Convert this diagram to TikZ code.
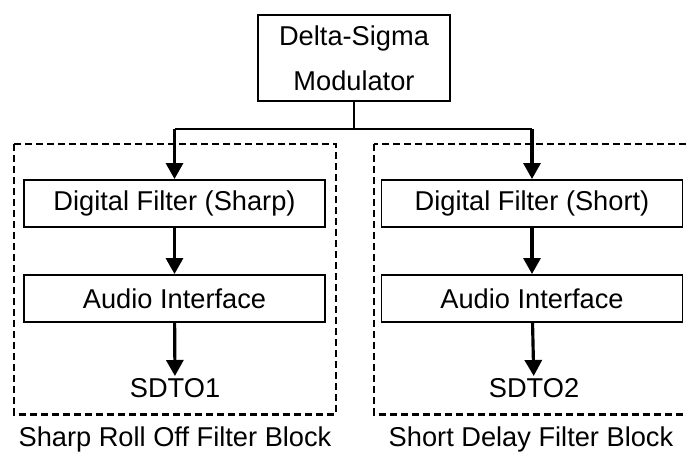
\documentclass[tikz,border=0pt]{standalone}
\usepackage{fontspec}
\setmainfont{Liberation Sans}
\usepackage{tikz}
\usetikzlibrary{arrows.meta,positioning}

\begin{document}
\begin{tikzpicture}[x=0.02cm, y=-0.02cm,
    font=\fontsize{15.5}{18}\selectfont,
    block/.style={draw, line width=1.1pt, minimum width=6.02cm, minimum height=0.94cm, inner sep=0pt},
    flow/.style={line width=1.8pt, -{Triangle[width=0.34cm, length=0.32cm]}},
    bus/.style={line width=1.6pt},
    feed/.style={line width=1.1pt},
    blockline/.style={line width=1.7pt, dash pattern=on 0.14cm off 0.08cm},
    outlabel/.style={inner sep=1pt}]
    \useasboundingbox (0,0) rectangle (687,454);

    % Modulator on top
    \node[draw, line width=1.1pt, minimum width=3.84cm, minimum height=1.72cm,
          align=center, inner sep=0pt, text depth=0pt] (dsm) at (354,58)
          {Delta-Sigma\\[8pt]Modulator};

    % Dashed filter blocks
    \draw[blockline] (14,144) rectangle (336,414);
    \draw[blockline] (374,144) rectangle (700,414);

    % Left chain
    \node[block] (dfsharp) at (174.5,203.5) {Digital Filter (Sharp)};
    \node[block] (aisharp) at (174.5,298.5) {Audio Interface};
    \node[outlabel, anchor=north] (sdto1) at (175,376) {SDTO1};

    % Right chain
    \node[block] (dfshort) at (532,203.5) {Digital Filter (Short)};
    \node[block] (aishort) at (532,298.5) {Audio Interface};
    \node[outlabel, anchor=north] (sdto2) at (534,376) {SDTO2};

    % Block captions
    \node (capsharp) at (175,439) {Sharp Roll Off Filter Block};
    \node (capshort) at (531,439) {Short Delay Filter Block};

    % Connectors
    \coordinate (split) at (354,129);
    \coordinate (busl) at (dfsharp.north |- split);
    \coordinate (busr) at (dfshort.north |- split);
    \draw[feed] (dsm.south) -- (split);
    \draw[bus] (busl) -- (busr);
    \draw[flow] (busl) -- (dfsharp.north);
    \draw[flow] (busr) -- (dfshort.north);
    \draw[flow] (dfsharp) -- (aisharp);
    \draw[flow] (dfshort) -- (aishort);
    \draw[flow] (aisharp) -- (sdto1);
    \draw[flow] (aishort) -- (sdto2);
\end{tikzpicture}
\end{document}
